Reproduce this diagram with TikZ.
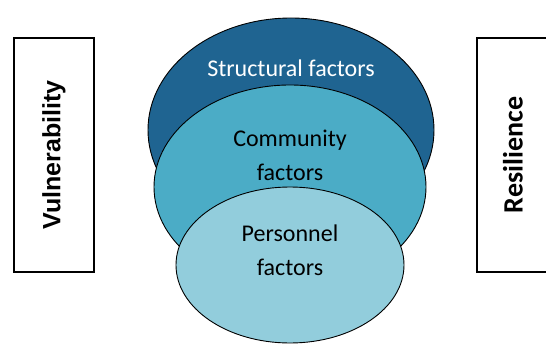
\documentclass[tikz,border=0pt]{standalone}
\usepackage{fontspec}
\setmainfont{Carlito}
\newfontfamily\arialfont{Liberation Sans}
\usetikzlibrary{shapes.geometric,positioning}
\definecolor{structblue}{RGB}{31,100,145}
\definecolor{commblue}{RGB}{75,172,198}
\definecolor{persblue}{RGB}{146,205,220}

\begin{document}
\begin{tikzpicture}[x=1pt,y=-1pt,
    factor/.style={ellipse,draw=black,line width=0.9pt,inner sep=0pt},
    sidebox/.style={draw=black,line width=1.2pt,rotate=90,minimum width=234pt,inner sep=0pt},
    factortext/.style={font=\fontsize{24}{34}\selectfont,align=center}]
    \clip (0,0) rectangle (546,345);
    % side boxes
    \node[sidebox,minimum height=80pt,font=\arialfont\bfseries\fontsize{25}{30}\selectfont] (vuln) at (54,155) {Vulnerability};
    \node[sidebox,minimum height=72pt,font=\bfseries\fontsize{28}{32}\selectfont] (resil) at (513,155) {Resilience};
    % nested ellipses
    \node[factor,fill=structblue,minimum width=286pt,minimum height=224pt] (structural) at (291,130) {};
    \node[factor,fill=commblue,minimum width=272pt,minimum height=204pt] (community) at (290,187) {};
    \node[factor,fill=persblue,minimum width=228pt,minimum height=156pt] (personnel) at (290,265) {};
    % labels
    \node[factortext,text=white] (structlabel) at (291,68) {Structural factors};
    \node[factortext] (commlabel) at (290,155) {Community\\factors};
    \node[factortext] (perslabel) at (290,250) {Personnel\\factors};
\end{tikzpicture}
\end{document}
